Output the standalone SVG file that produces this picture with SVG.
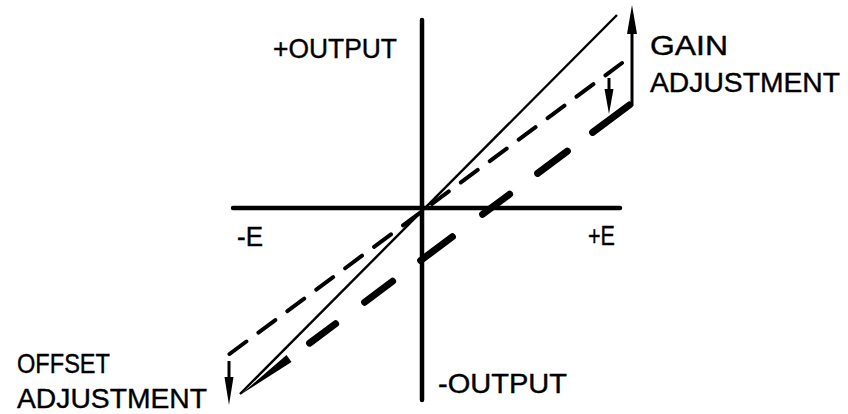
<svg xmlns="http://www.w3.org/2000/svg" width="848" height="414" viewBox="0 0 848 414">
<style>
  .axis { stroke: #000; stroke-width: 4.5; fill: none; stroke-linecap: round; }
  .solid { stroke: #000; stroke-width: 2.4; fill: none; }
  .tdash { stroke: #000; stroke-width: 4; fill: none; stroke-linecap: round; stroke-dasharray: 21 15; }
  .thick { stroke: #000; stroke-width: 7; fill: none; stroke-linecap: round; }
  .arr { stroke: #000; stroke-width: 3; fill: none; }
  .head { fill: #000; stroke: none; }
  text { font-family: "Liberation Sans", Arial, sans-serif; font-size: 28px; fill: #000; stroke: #000; stroke-width: 0.4; }
</style>
<rect width="848" height="414" fill="#fff"/>
<g id="axes">
  <line class="axis" x1="233" y1="208" x2="620" y2="208"/>
  <line class="axis" x1="422" y1="20" x2="422" y2="400"/>
</g>
<g id="curves">
  <line class="solid" x1="240" y1="394" x2="617" y2="15"/>
  <path class="tdash" d="M229.5,354 L622,63"/>
  <path class="thick" d="M629.4,105 L592.6,132.4 M567.4,151.1 L537.6,173.4 M509.6,194.2 L482.6,214.3 M452.4,236.8 L420.6,260.5 M392.6,281.3 L364.6,302.2 M335.6,323.8 L309.6,343.1"/>
  <polygon class="head" points="240,395 291.5,362 286.5,355"/>
</g>
<g id="connectors">
  <line class="arr" x1="632" y1="106" x2="632" y2="28"/>
  <polygon class="head" points="632,5 627,34 637,34"/>
  <line class="arr" x1="609" y1="78" x2="609" y2="95"/>
  <polygon class="head" points="609,114 604.5,89 613.5,89"/>
  <line class="arr" x1="229" y1="361" x2="229" y2="382"/>
  <polygon class="head" points="229,405 224.5,377 233.5,377"/>
</g>
<g id="labels">
  <text x="273" y="58" textLength="124" lengthAdjust="spacingAndGlyphs">+OUTPUT</text>
  <text x="438" y="393" textLength="129" lengthAdjust="spacingAndGlyphs">-OUTPUT</text>
  <text x="237" y="246" textLength="26" lengthAdjust="spacingAndGlyphs">-E</text>
  <text x="588" y="245" textLength="27" lengthAdjust="spacingAndGlyphs">+E</text>
  <text x="650" y="55" textLength="78" lengthAdjust="spacingAndGlyphs">GAIN</text>
  <text x="650" y="92" textLength="190" lengthAdjust="spacingAndGlyphs">ADJUSTMENT</text>
  <text x="17" y="373" textLength="93" lengthAdjust="spacingAndGlyphs">OFFSET</text>
  <text x="17" y="408" textLength="190" lengthAdjust="spacingAndGlyphs">ADJUSTMENT</text>
</g>
</svg>
